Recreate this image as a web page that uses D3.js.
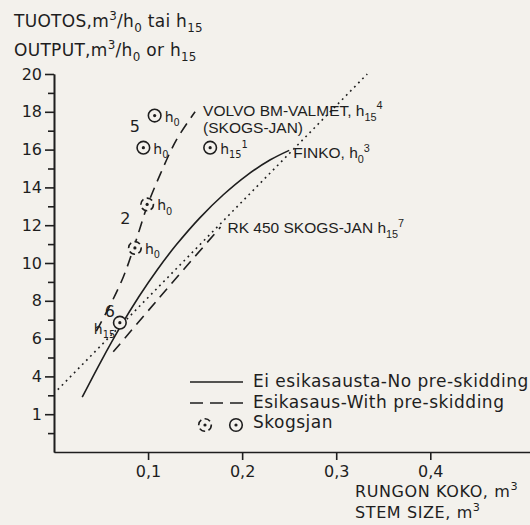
<!DOCTYPE html>
<html>
<head>
<meta charset="utf-8">
<script src="https://cdn.jsdelivr.net/npm/d3@7"></script>
<style>
  body { margin: 0; background: #f3f1ec; }
  svg { display: block; }
</style>
</head>
<body>
<div id="graph"></div>
<script>
let width = 530;
let height = 525;
let ink = "#1e1e1e";

// stem size (m3) vs output (m3/h)
const noPreSkidding = [[0.030, 2.9], [0.05, 4.8], [0.07, 6.58], [0.09, 8.2], [0.11, 9.66], [0.13, 10.96],
  [0.155, 12.39], [0.18, 13.61], [0.205, 14.64], [0.23, 15.46], [0.25, 15.96]];
const preSkiddingVolvo = [[0.045, 6.4], [0.06, 7.8], [0.074, 9.3], [0.086, 11.0], [0.099, 13.0],
  [0.113, 14.7], [0.13, 16.5], [0.15, 18.0]];
const preSkiddingRK = [[0.063, 5.3], [0.11, 8.05], [0.177, 11.9]];
const finkoLine = [[0.004, 3.3], [0.333, 20.0]];
const skogsjanSolid = [[0.107, 17.8], [0.095, 16.1], [0.166, 16.1], [0.070, 6.84]];
const skogsjanDashed = [[0.099, 13.1], [0.086, 10.8]];

const yMajor = [20, 18, 16, 14, 12, 10, 8, 6, 4, 2];
const yMajorLabels = ["20", "18", "16", "14", "12", "10", "8", "6", "4", "1"];
const yMinor = [19, 17, 15, 13, 11, 9, 7, 5, 3, 1];
const xMajor = [0.1, 0.2, 0.3, 0.4];
const xMajorLabels = ["0,1", "0,2", "0,3", "0,4"];
const legendLabels = ["Ei esikasausta-No pre-skidding", "Esikasaus-With pre-skidding", "Skogsjan"];

let x = d3.scaleLinear().domain([0, 0.506]).range([54, 530]);
let y = d3.scaleLinear().domain([0, 20]).range([452, 74]);

let svg = d3.select('#graph')
  .append('svg')
  .attr('width', width)
  .attr('height', height)
  .attr('font-family', '"DejaVu Sans", sans-serif')
  .attr('fill', ink);

// text with sub/superscripts: parts are strings or ['^'|'_', text]
let rich = function(sel, parts, size) {
  let shift = 0;
  parts.forEach((p) => {
    let t = typeof p === 'string' ? p : p[1];
    let off = typeof p === 'string' ? 0 : (p[0] === '^' ? -0.42 * size : 0.32 * size);
    sel.append('tspan')
      .attr('dy', off - shift)
      .attr('font-size', off ? size * 0.7 : size)
      .text(t);
    shift = off;
  });
  return sel;
};

let styleAxis = function(g) {
  g.attr('font-family', '"DejaVu Sans", sans-serif').attr('font-size', 16);
  g.selectAll('path, line').attr('stroke', ink).attr('stroke-width', 1.6);
  g.selectAll('text').attr('fill', ink);
};

// axes
svg.append('g')
  .attr('transform', `translate(${x(0)},0)`)
  .call(d3.axisLeft(y).tickValues(yMinor).tickSize(6).tickSizeOuter(0).tickFormat(''))
  .call(styleAxis);

svg.append('g')
  .attr('transform', `translate(${x(0)},0)`)
  .call(d3.axisLeft(y).tickValues(yMajor).tickSize(9).tickSizeOuter(0).tickPadding(3)
    .tickFormat((d) => yMajorLabels[yMajor.indexOf(d)]))
  .call(styleAxis);

svg.append('g')
  .attr('transform', `translate(0,${y(0)})`)
  .call(d3.axisBottom(x).tickValues(xMajor).tickSize(8).tickSizeOuter(0).tickPadding(6)
    .tickFormat((d) => xMajorLabels[xMajor.indexOf(d)]))
  .call(styleAxis);

// axis titles
rich(svg.append('text').attr('x', 14).attr('y', 27).attr('letter-spacing', 0.3),
  ['TUOTOS,m', ['^', '3'], '/h', ['_', '0'], ' tai h', ['_', '15']], 17);
rich(svg.append('text').attr('x', 14).attr('y', 56).attr('letter-spacing', 0.3),
  ['OUTPUT,m', ['^', '3'], '/h', ['_', '0'], ' or h', ['_', '15']], 17);
rich(svg.append('text').attr('x', 355).attr('y', 497).attr('letter-spacing', 0.6),
  ['RUNGON  KOKO, m', ['^', '3']], 16);
rich(svg.append('text').attr('x', 355).attr('y', 518).attr('letter-spacing', 0.6),
  ['STEM  SIZE, m', ['^', '3']], 16);

// curves
let line = d3.line()
  .x((d) => x(d[0]))
  .y((d) => y(d[1]))
  .curve(d3.curveCatmullRom);

let curves = [
  { data: finkoLine, dash: '1.8,4' },
  { data: noPreSkidding, dash: null },
  { data: preSkiddingVolvo, dash: '11,7' },
  { data: preSkiddingRK, dash: '11,7' }
];

svg.selectAll('path.curve')
  .data(curves)
  .enter()
  .append('path')
  .classed('curve', true)
  .attr('d', (d) => line(d.data))
  .attr('fill', 'none')
  .attr('stroke', ink)
  .attr('stroke-width', 1.6)
  .attr('stroke-dasharray', (d) => d.dash);

// Skogsjan markers
let marker = function(g, cx, cy, dashed) {
  g.append('circle')
    .attr('cx', cx).attr('cy', cy).attr('r', 6.3)
    .attr('fill', '#f3f1ec')
    .attr('stroke', ink)
    .attr('stroke-width', 1.6)
    .attr('stroke-dasharray', dashed ? '6,3.5' : null);
  g.append('circle')
    .attr('cx', cx).attr('cy', cy).attr('r', 1.6)
    .attr('fill', ink);
};

let marks = svg.append('g');
skogsjanSolid.forEach((d) => marker(marks, x(d[0]), y(d[1]), false));
skogsjanDashed.forEach((d) => marker(marks, x(d[0]), y(d[1]), true));

let lab = function(px, py, parts, size) {
  return rich(svg.append('text').attr('x', px).attr('y', py), parts, size || 14);
};

let s0 = skogsjanSolid.map((d) => [x(d[0]), y(d[1])]);
let d0 = skogsjanDashed.map((d) => [x(d[0]), y(d[1])]);

lab(s0[0][0] + 10, s0[0][1] + 6, ['h', ['_', '0']]);
lab(s0[0][0] - 25, s0[0][1] + 16, ['5'], 16);
lab(s0[1][0] + 10, s0[1][1] + 6, ['h', ['_', '0']]);
lab(s0[2][0] + 10, s0[2][1] + 6, ['h', ['_', '15'], ['^', '1']]);
lab(s0[3][0] - 15, s0[3][1] - 6, ['6'], 16);
lab(s0[3][0] - 26, s0[3][1] + 11, ['h', ['_', '15']]);
lab(d0[0][0] + 10, d0[0][1] + 6, ['h', ['_', '0']]);
lab(d0[0][0] - 27, d0[0][1] + 20, ['2'], 16);
lab(d0[1][0] + 10, d0[1][1] + 6, ['h', ['_', '0']]);

// machine annotations
let volvoEnd = preSkiddingVolvo[preSkiddingVolvo.length - 1];
let finkoEnd = noPreSkidding[noPreSkidding.length - 1];
let rkEnd = preSkiddingRK[preSkiddingRK.length - 1];

let ann = svg.append('g').attr('font-family', '"Liberation Sans", Arial, sans-serif');
rich(ann.append('text').attr('x', x(volvoEnd[0]) + 8).attr('y', y(volvoEnd[1]) + 4),
  ['VOLVO BM-VALMET, h', ['_', '15'], ['^', '4']], 15.5);
rich(ann.append('text').attr('x', x(volvoEnd[0]) + 8).attr('y', y(volvoEnd[1]) + 21),
  ['(SKOGS-JAN)'], 15.5);
rich(ann.append('text').attr('x', x(finkoEnd[0]) + 4).attr('y', y(finkoEnd[1]) + 8),
  ['FINKO, h', ['_', '0'], ['^', '3']], 15.5);
rich(ann.append('text').attr('x', x(rkEnd[0]) + 7).attr('y', y(rkEnd[1]) + 6),
  ['RK 450 SKOGS-JAN h', ['_', '15'], ['^', '7']], 15.5);

// legend
let legend = svg.append('g');
legend.append('line').attr('x1', 190).attr('x2', 243).attr('y1', 382).attr('y2', 382)
  .attr('stroke', ink).attr('stroke-width', 1.6);
legend.append('line').attr('x1', 190).attr('x2', 243).attr('y1', 403).attr('y2', 403)
  .attr('stroke', ink).attr('stroke-width', 1.6).attr('stroke-dasharray', '13,7');
marker(legend, 205, 425, true);
marker(legend, 236, 425, false);

legend.selectAll('text')
  .data(legendLabels)
  .enter()
  .append('text')
  .attr('x', 253)
  .attr('y', (d, i) => 387 + i * 20.5)
  .attr('font-size', 17)
  .attr('letter-spacing', 0.5)
  .text((d) => d);
</script>
</body>
</html>
